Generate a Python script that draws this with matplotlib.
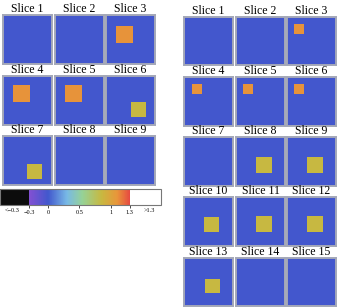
import numpy as np
import matplotlib
matplotlib.use("Agg")
import matplotlib.pyplot as plt
from matplotlib.colors import LinearSegmentedColormap, Normalize
import matplotlib.cm as cm

# ---------------- data ----------------
GRID = 49  # image resolution of each slice
BG_VALUE = 0.0
ORANGE_VALUE = 1.1
YELLOW_VALUE = 0.85

# left set: slice number -> (col0, row0, size, value)
left_titles = [f"Slice {i}" for i in range(1, 10)]
left_squares = {
    3: (10, 11, 17, ORANGE_VALUE),
    4: (10, 9, 17, ORANGE_VALUE),
    5: (10, 9, 17, ORANGE_VALUE),
    6: (25, 26, 15, YELLOW_VALUE),
    7: (24, 28, 15, YELLOW_VALUE),
}

right_titles = [f"Slice {i}" for i in range(1, 16)]
right_squares = {
    3: (7, 7, 10, ORANGE_VALUE),
    4: (8, 7, 10, ORANGE_VALUE),
    5: (7, 7, 10, ORANGE_VALUE),
    6: (7, 7, 10, ORANGE_VALUE),
    8: (20, 20, 16, YELLOW_VALUE),
    9: (20, 20, 16, YELLOW_VALUE),
    10: (20, 20, 15, YELLOW_VALUE),
    11: (20, 19, 16, YELLOW_VALUE),
    12: (20, 19, 16, YELLOW_VALUE),
    13: (21, 21, 15, YELLOW_VALUE),
}

cbar_ticks = [-0.3, 0, 0.5, 1, 1.3]
cbar_ticklabels = ["\u22120.3", "0", "0.5", "1", "1.3"]
cbar_under_label = "<\u22120.3"
cbar_over_label = ">1.3"
vmin, vmax = -0.3, 1.3

# ---------------- colormap ----------------
nodes = [
    (0.0, (130, 80, 210)),
    (0.1875, (66, 88, 205)),
    (0.375, (120, 185, 230)),
    (0.53, (150, 210, 150)),
    (0.72, (200, 184, 64)),
    (0.875, (232, 150, 58)),
    (1.0, (230, 75, 65)),
]
cmap = LinearSegmentedColormap.from_list(
    "rb", [(t, tuple(c / 255 for c in rgb)) for t, rgb in nodes])
cmap.set_under("#0c0c0c")
cmap.set_over("white")
norm = Normalize(vmin=vmin, vmax=vmax)

W, H = 337, 307
fig = plt.figure(figsize=(W / 100, H / 100), dpi=100)
plt.rcParams['font.family'] = ['Liberation Serif', 'DejaVu Serif']


def px(x0, y0, x1, y1):
    return [x0 / W, 1 - y1 / H, (x1 - x0) / W, (y1 - y0) / H]


def slice_image(spec):
    img = np.full((GRID, GRID), BG_VALUE)
    if spec is not None:
        c0, r0, s, v = spec
        img[r0:r0 + s, c0:c0 + s] = v
    return img


def draw_grid(titles, squares, cols, rows):
    for i, title in enumerate(titles):
        r, c = divmod(i, 3)
        x0, x1 = cols[c]
        y0, y1 = rows[r]
        ax = fig.add_axes(px(x0, y0, x1, y1))
        ax.imshow(slice_image(squares.get(i + 1)), cmap=cmap, norm=norm,
                  aspect='auto', interpolation='nearest')
        ax.set_xticks([])
        ax.set_yticks([])
        for sp in ax.spines.values():
            sp.set_color('#a4a8b8')
            sp.set_linewidth(1.4)
        ax.set_title(title, fontsize=8.5, pad=1.5, color='black')


draw_grid(left_titles, left_squares,
          [(3, 52), (55, 104), (106, 155)],
          [(15, 64), (76, 125), (136, 185)])
draw_grid(right_titles, right_squares,
          [(184, 233), (236, 285), (287, 336)],
          [(17, 65), (77, 126), (137, 186), (197, 246), (258, 306)])

# colorbar
cax = fig.add_axes(px(0, 189, 161, 205))
sm = cm.ScalarMappable(norm=norm, cmap=cmap)
cb = fig.colorbar(sm, cax=cax, orientation='horizontal', extend='both',
                  extendrect=True, extendfrac=(0.29, 0.31))
cb.set_ticks(cbar_ticks)
cb.set_ticklabels(cbar_ticklabels)
cb.ax.tick_params(labelsize=4.5, length=2, width=0.5, pad=1.5, colors='black')
cb.outline.set_edgecolor('#777777')
cb.outline.set_linewidth(0.8)
fig.text(12 / W, 1 - 210 / H, cbar_under_label, fontsize=4.5, ha='center', va='center')
fig.text(149 / W, 1 - 210 / H, cbar_over_label, fontsize=4.5, ha='center', va='center')

fig.savefig("out.png", dpi=100)
